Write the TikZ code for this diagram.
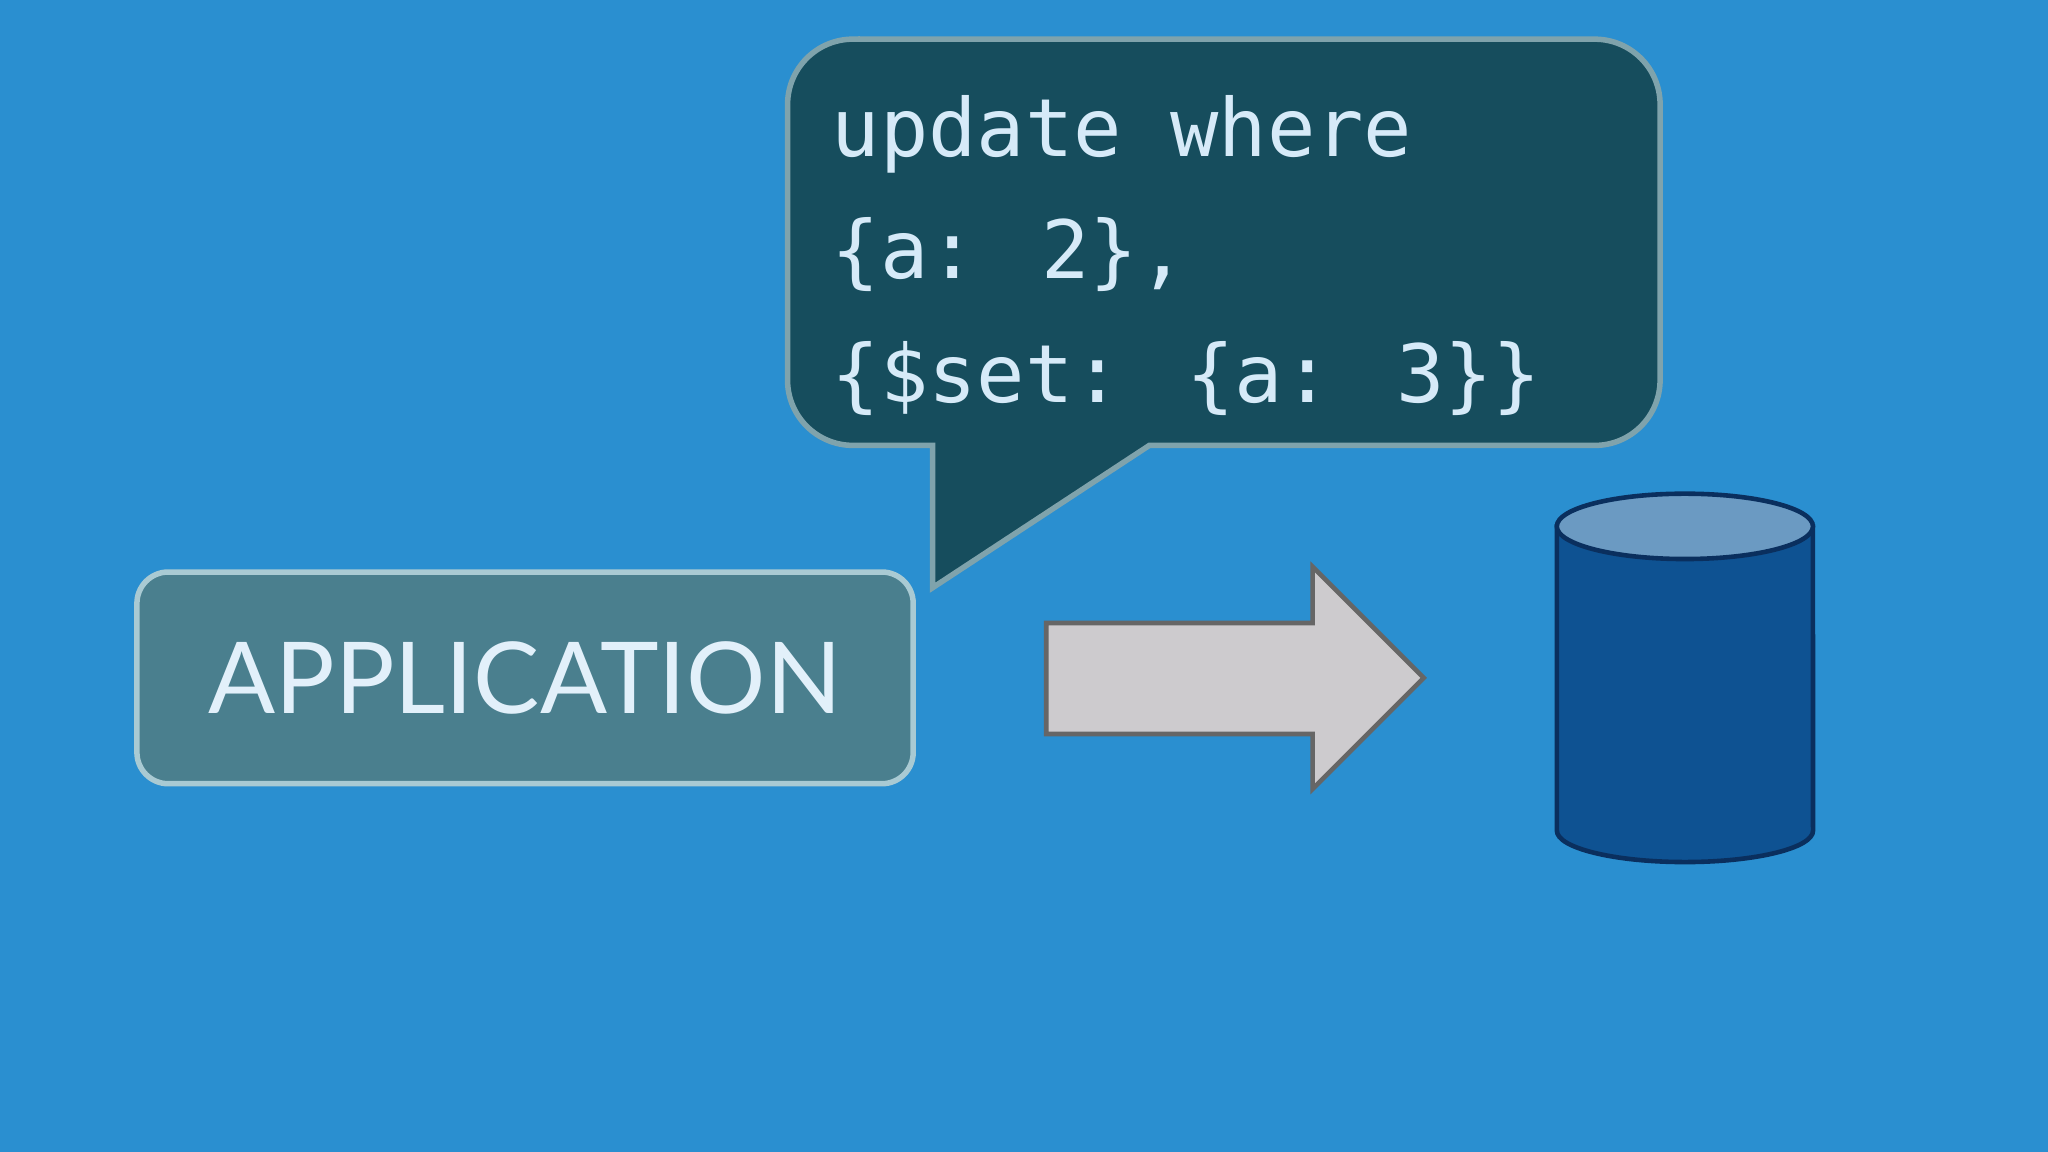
\documentclass[tikz,border=0pt]{standalone}
\usepackage{fontspec}
\setmainfont{Lato}
\newfontfamily\codefont{DejaVu Sans Mono}
\definecolor{bg}{HTML}{2A8FD0}
\definecolor{bubble}{HTML}{164D5D}
\definecolor{bubbleedge}{HTML}{7FA3AC}
\definecolor{codetxt}{HTML}{D6EAF8}
\definecolor{appfill}{HTML}{4A7F8E}
\definecolor{appedge}{HTML}{A9CAD3}
\definecolor{arrowfill}{HTML}{CDCBCE}
\definecolor{cylfill}{HTML}{0E5292}
\definecolor{cyltop}{HTML}{6B9AC2}
\definecolor{cyledge}{HTML}{0A2F5E}
\tikzset{codeline/.style={anchor=base west,text=codetxt,inner sep=0pt,font=\codefont\fontsize{17.5}{20}\selectfont}}
\begin{document}
\begin{tikzpicture}[x=0.01cm,y=-0.01cm]
\fill[bg] (0,0) rectangle (1568,882);
\useasboundingbox (0,0) rectangle (1568,882);
% bubble
\draw[bubbleedge,line width=1.2pt,fill=bubble]
  (653,30) -- (1221,30) arc[start angle=90,end angle=0,radius=0.5cm] -- (1271,291)
  arc[start angle=0,end angle=-90,radius=0.5cm] -- (880,341) -- (714,450) -- (714,341) -- (653,341)
  arc[start angle=270,end angle=180,radius=0.5cm] -- (603,80)
  arc[start angle=180,end angle=90,radius=0.5cm] -- cycle;
\node[codeline] (l1) at (636,120) {update where};
\node[codeline] (l2) at (636,213) {\{a: 2\},};
\node[codeline] (l3) at (636,308) {\{\$set: \{a: 3\}\}};
% application
\node[draw=appedge,line width=1.2pt,fill=appfill,rounded corners=0.24cm,minimum width=5.94cm,minimum height=1.62cm,text=codetxt!70!white,font=\fontsize{21.6}{26}\selectfont] (app) at (402,519) {APPLICATION};
% arrow
\draw[draw=black!60,line width=1pt,fill=arrowfill]
  (801,477) -- (1005,477) -- (1005,434) -- (1090,519) -- (1005,604) -- (1005,562) -- (801,562) -- cycle;
% cylinder
\draw[cyledge,line width=1pt,fill=cylfill]
  (1192,403) -- (1192,636) arc[start angle=180,end angle=360,x radius=0.98cm,y radius=0.24cm] -- (1388,403) -- cycle;
\draw[cyledge,line width=1pt,fill=cyltop] (1290,403) ellipse[x radius=0.98cm,y radius=0.25cm];
\end{tikzpicture}
\end{document}
